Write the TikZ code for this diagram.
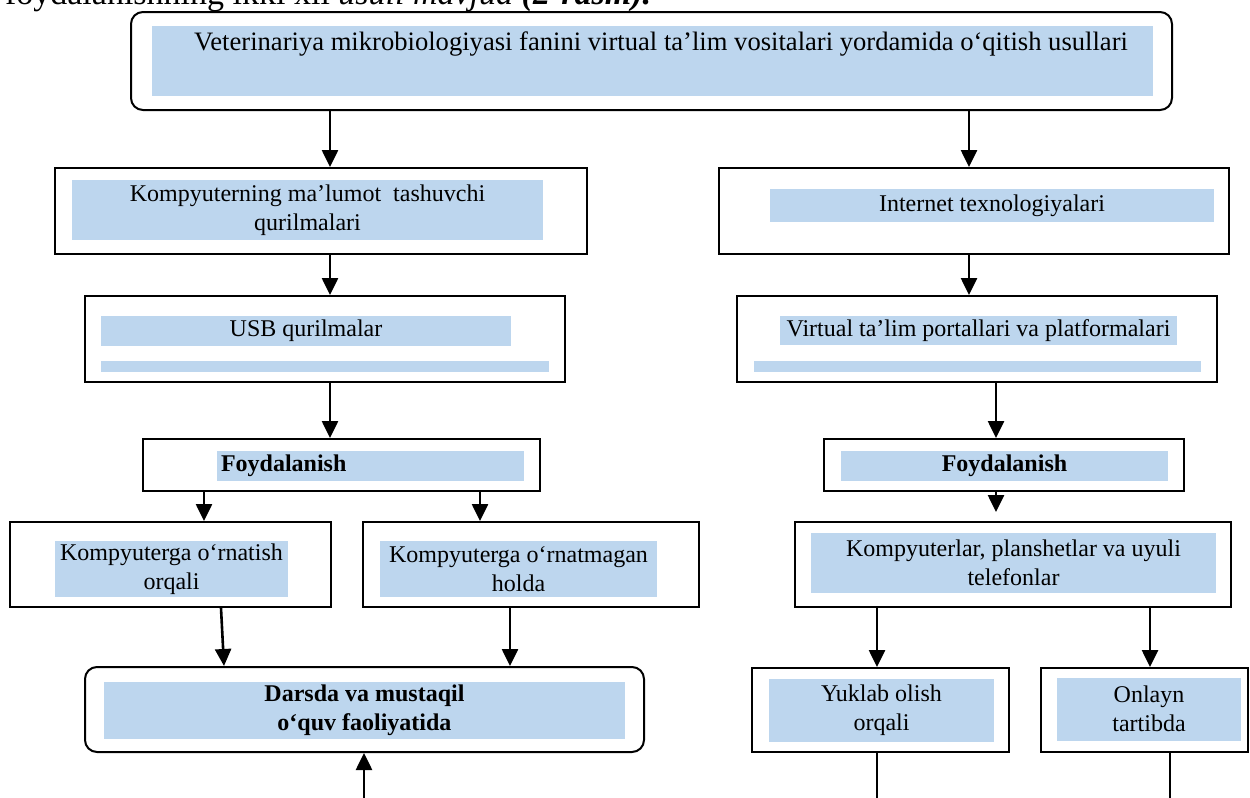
\documentclass[tikz,border=0pt]{standalone}
\usepackage{fontspec}
\setmainfont{Liberation Serif}
\usetikzlibrary{arrows.meta, positioning}
\definecolor{bandblue}{HTML}{BDD6EE}

\begin{document}
\begin{tikzpicture}[
  x=0.5pt, y=-0.5pt,
  font=\fontsize{12}{14.5}\selectfont,
  boldtext/.style={font=\fontsize{12}{14.5}\selectfont\bfseries},
  frame/.style={draw, line width=1pt, inner sep=0pt},
  roundframe/.style={frame, rounded corners=6pt},
  blueband/.style={fill=bandblue, inner sep=0pt, align=center},
  bluebar/.style={fill=bandblue, inner sep=0pt, minimum height=5.5pt},
  link/.style={line width=1.3pt, -{Triangle[length=8.5pt,width=8pt]}},
  tail/.style={line width=0.8pt},
]
  \useasboundingbox (0,0) rectangle (1250,798);

  % Caption line (cut by the page)
  \node[anchor=base west, font=\fontsize{17}{20}\selectfont] (caption) at (-2,4)
    {foydalanishning ikki xil \textit{usuli mavjud} \textbf{\textit{(2-rasm).}}};

  % Main box
  \node[roundframe, minimum width=520.5pt, minimum height=49pt] (top) at (651.5,61) {};
  \node[blueband, minimum width=500.5pt, minimum height=35pt] (topband) at (652.5,61) {};
  \node[anchor=base, font=\fontsize{13.3}{16}\selectfont] (toptext) at (661,50)
    {Veterinariya mikrobiologiyasi fanini virtual ta’lim vositalari yordamida o‘qitish usullari};

  % Left branch
  \node[frame, minimum width=266pt, minimum height=43pt] (store) at (321,211) {};
  \node[blueband, minimum width=235.5pt, minimum height=30pt] (storeband) at (307.5,210)
    {Kompyuterning ma’lumot~ tashuvchi\\qurilmalari};

  \node[frame, minimum width=240pt, minimum height=43pt] (usb) at (325,339) {};
  \node[blueband, minimum width=205pt, minimum height=15pt] (usbband) at (306,331) {USB qurilmalar};
  \node[bluebar, minimum width=224pt] (usbbar) at (325,366.5) {};

  \node[frame, minimum width=198.5pt, minimum height=26pt] (useL) at (341.5,465) {};
  \node[blueband, boldtext, inner xsep=2pt, minimum width=153.5pt, minimum height=15pt,
        text width=149.5pt, align=left] (useLband) at (370.5,466) {Foydalanish};

  \node[frame, minimum width=160.5pt, minimum height=42.5pt] (install) at (170.5,564.5) {};
  \node[blueband, minimum width=116.5pt, minimum height=28pt] (installband) at (171.5,569)
    {Kompyuterga o‘rnatish\\orqali};

  \node[frame, minimum width=168pt, minimum height=42.5pt] (noinstall) at (531,564.5) {};
  \node[blueband, minimum width=138.5pt, minimum height=28pt] (noinstallband) at (518.5,569)
    {Kompyuterga o‘rnatmagan\\holda};

  \node[roundframe, minimum width=279.5pt, minimum height=42.5pt] (lesson) at (364.5,709.5) {};
  \node[blueband, boldtext, minimum width=260.5pt, minimum height=28.5pt] (lessonband) at (364.5,710.5)
    {Darsda va mustaqil\\o‘quv faoliyatida};

  % Right branch
  \node[frame, minimum width=255pt, minimum height=43pt] (web) at (974,211) {};
  \node[blueband, minimum width=222pt, minimum height=16.5pt] (webband) at (992,205.5)
    {Internet texnologiyalari};

  \node[frame, minimum width=240pt, minimum height=43pt] (portal) at (977,339) {};
  \node[blueband, minimum width=198.5pt, minimum height=14.5pt] (portalband) at (978.5,330.5)
    {Virtual ta’lim portallari va platformalari};
  \node[bluebar, minimum width=223.5pt] (portalbar) at (977.5,366.5) {};

  \node[frame, minimum width=180pt, minimum height=26pt] (useR) at (1004,465) {};
  \node[blueband, boldtext, minimum width=163.5pt, minimum height=15pt] (useRband) at (1004.5,466)
    {Foydalanish};

  \node[frame, minimum width=218pt, minimum height=42.5pt] (device) at (1013,564.5) {};
  \node[blueband, minimum width=202.5pt, minimum height=30pt] (deviceband) at (1013.5,563)
    {Kompyuterlar, planshetlar va uyuli\\telefonlar};

  \node[frame, minimum width=128.5pt, minimum height=42pt] (download) at (880.5,710) {};
  \node[blueband, minimum width=112.5pt, minimum height=31.5pt] (downloadband) at (881.5,710.5)
    {Yuklab olish\\orqali};

  \node[frame, minimum width=103.5pt, minimum height=42pt] (online) at (1144.5,710) {};
  \node[blueband, minimum width=92pt, minimum height=31.5pt] (onlineband) at (1149,709)
    {Onlayn\\tartibda};

  % Columns of the connectors
  \coordinate (cL) at (330,0);
  \coordinate (cR) at (969,0);
  \coordinate (cR2) at (996,0);
  \coordinate (cA) at (204,0);
  \coordinate (cB) at (480,0);
  \coordinate (cC1) at (221,0);
  \coordinate (cC2) at (224,0);
  \coordinate (cD) at (510,0);
  \coordinate (cF) at (877,0);
  \coordinate (cG) at (1150,0);
  \coordinate (feed) at (364,800);
  \coordinate (downEnd) at (877,800);
  \coordinate (onlineEnd) at (1170,800);

  % Connectors
  \draw[link] (top.south -| cL) -- (store.north -| cL);
  \draw[link] (top.south -| cR) -- (web.north -| cR);
  \draw[link] (store.south -| cL) -- (usb.north -| cL);
  \draw[link] (usb.south -| cL) -- (useL.north -| cL);
  \draw[link] (useL.south -| cA) -- (install.north -| cA);
  \draw[link] (useL.south -| cB) -- (noinstall.north -| cB);
  \draw[link] (install.south -| cC1) -- (lesson.north -| cC2);
  \draw[link] (noinstall.south -| cD) -- (lesson.north -| cD);
  \draw[link] (feed) -- (lesson.south -| feed);
  \draw[link] (web.south -| cR) -- (portal.north -| cR);
  \draw[link] (portal.south -| cR2) -- (useR.north -| cR2);
  \draw[link, shorten >=4.5pt] (useR.south -| cR2) -- (device.north -| cR2);
  \draw[link] (device.south -| cF) -- (download.north -| cF);
  \draw[link] (device.south -| cG) -- (online.north -| cG);
  \draw[tail] (download.south -| downEnd) -- (downEnd);
  \draw[tail] (online.south -| onlineEnd) -- (onlineEnd);
\end{tikzpicture}
\end{document}
